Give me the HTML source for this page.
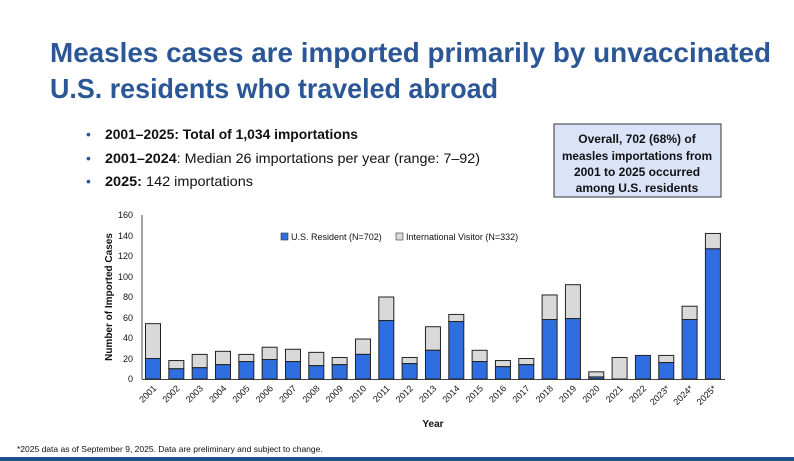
<!DOCTYPE html>
<html><head><meta charset="utf-8"><style>
html,body{margin:0;padding:0;background:#fff;}
svg{display:block;font-family:"Liberation Sans",sans-serif;}
</style></head><body>
<svg width="794" height="461" viewBox="0 0 794 461" xmlns="http://www.w3.org/2000/svg">
<rect width="794" height="461" fill="#fff"/>
<text x="50" y="62" font-size="28" font-weight="bold" fill="#2b5797" textLength="721" lengthAdjust="spacingAndGlyphs">Measles cases are imported primarily by unvaccinated</text>
<text x="50" y="98" font-size="28" font-weight="bold" fill="#2b5797" textLength="448" lengthAdjust="spacingAndGlyphs">U.S. residents who traveled abroad</text>
<g font-size="14" fill="#111">
<text x="86" y="139" fill="#2b5797">•</text><text x="105" y="139" font-weight="bold" textLength="253" lengthAdjust="spacingAndGlyphs">2001–2025: Total of 1,034 importations</text>
<text x="86" y="163" fill="#2b5797">•</text><text x="105" y="163" textLength="375" lengthAdjust="spacingAndGlyphs"><tspan font-weight="bold">2001–2024</tspan>: Median 26 importations per year (range: 7–92)</text>
<text x="86" y="186" fill="#2b5797">•</text><text x="105" y="186" textLength="148" lengthAdjust="spacingAndGlyphs"><tspan font-weight="bold">2025:</tspan> 142 importations</text>
</g>
<rect x="554" y="124" width="167" height="73" fill="#dae3f8" stroke="#333" stroke-width="1"/>
<g font-size="12" font-weight="bold" fill="#111" text-anchor="middle">
<text x="637" y="143">Overall, 702 (68%) of</text>
<text x="637" y="160" textLength="150" lengthAdjust="spacingAndGlyphs">measles importations from</text>
<text x="637" y="176">2001 to 2025 occurred</text>
<text x="637" y="192">among U.S. residents</text>
</g>
<g font-size="9" fill="#111" text-anchor="end">
<text x="133" y="218">160</text><text x="133" y="239">140</text><text x="133" y="259">120</text>
<text x="133" y="280">100</text><text x="133" y="300">80</text><text x="133" y="321">60</text>
<text x="133" y="341">40</text><text x="133" y="362">20</text><text x="133" y="382">0</text>
</g>
<text transform="translate(112,297) rotate(-90)" font-size="10" font-weight="bold" text-anchor="middle" fill="#111">Number of Imported Cases</text>
<line x1="142" y1="215" x2="142" y2="379" stroke="#444" stroke-width="1"/>
<line x1="142" y1="379.5" x2="725" y2="379.5" stroke="#444" stroke-width="1"/>
<rect x="281" y="233" width="7" height="7" fill="#2f6ee0" stroke="#333" stroke-width="0.6"/>
<text x="291" y="240" font-size="9" fill="#111">U.S. Resident (N=702)</text>
<rect x="396" y="233" width="7" height="7" fill="#d9d9d9" stroke="#333" stroke-width="0.6"/>
<text x="406" y="240" font-size="9" fill="#111">International Visitor (N=332)</text>
<g id="bars" stroke="#222" stroke-width="1"></g>
<g id="labels" font-size="9" fill="#111"></g>
<text x="433" y="427" font-size="10" font-weight="bold" text-anchor="middle" fill="#111">Year</text>
<text x="17" y="452" font-size="8.5" fill="#111">*2025 data as of September 9, 2025. Data are preliminary and subject to change.</text>
<rect x="0" y="457" width="794" height="4" fill="#1f4e8c"/>
</svg>
<script>
var d=[[20,54],[10,18],[11,24],[14,27],[17,24],[19,31],[17,29],[13,26],[14,21],[24,39],[57,80],[15,21],[28,51],[56,63],[17,28],[12,18],[14,20],[58,82],[59,92],[2,7],[0,21],[23,23],[16,23],[58,71],[127,142]];
var ns="http://www.w3.org/2000/svg",b=document.getElementById("bars"),l=document.getElementById("labels");
function r(x,y,w,h,f){var e=document.createElementNS(ns,"rect");e.setAttribute("x",x);e.setAttribute("y",y);e.setAttribute("width",w);e.setAttribute("height",h);e.setAttribute("fill",f);b.appendChild(e);}
d.forEach(function(v,i){var c=153+i*23.33,k=1.025,yr=379-v[0]*k,yt=379-v[1]*k;
r(c-7.5,yt,15,yr-yt,"#d9d9d9");if(v[0]>0)r(c-7.5,yr,15,379-yr,"#2f6ee0");
var t=document.createElementNS(ns,"text");var lab=(2001+i)+(i>=22?"*":"");t.textContent=lab;
t.setAttribute("text-anchor","end");t.setAttribute("transform","translate("+(c+4)+",389) rotate(-45)");l.appendChild(t);});
</script>
</body></html>
